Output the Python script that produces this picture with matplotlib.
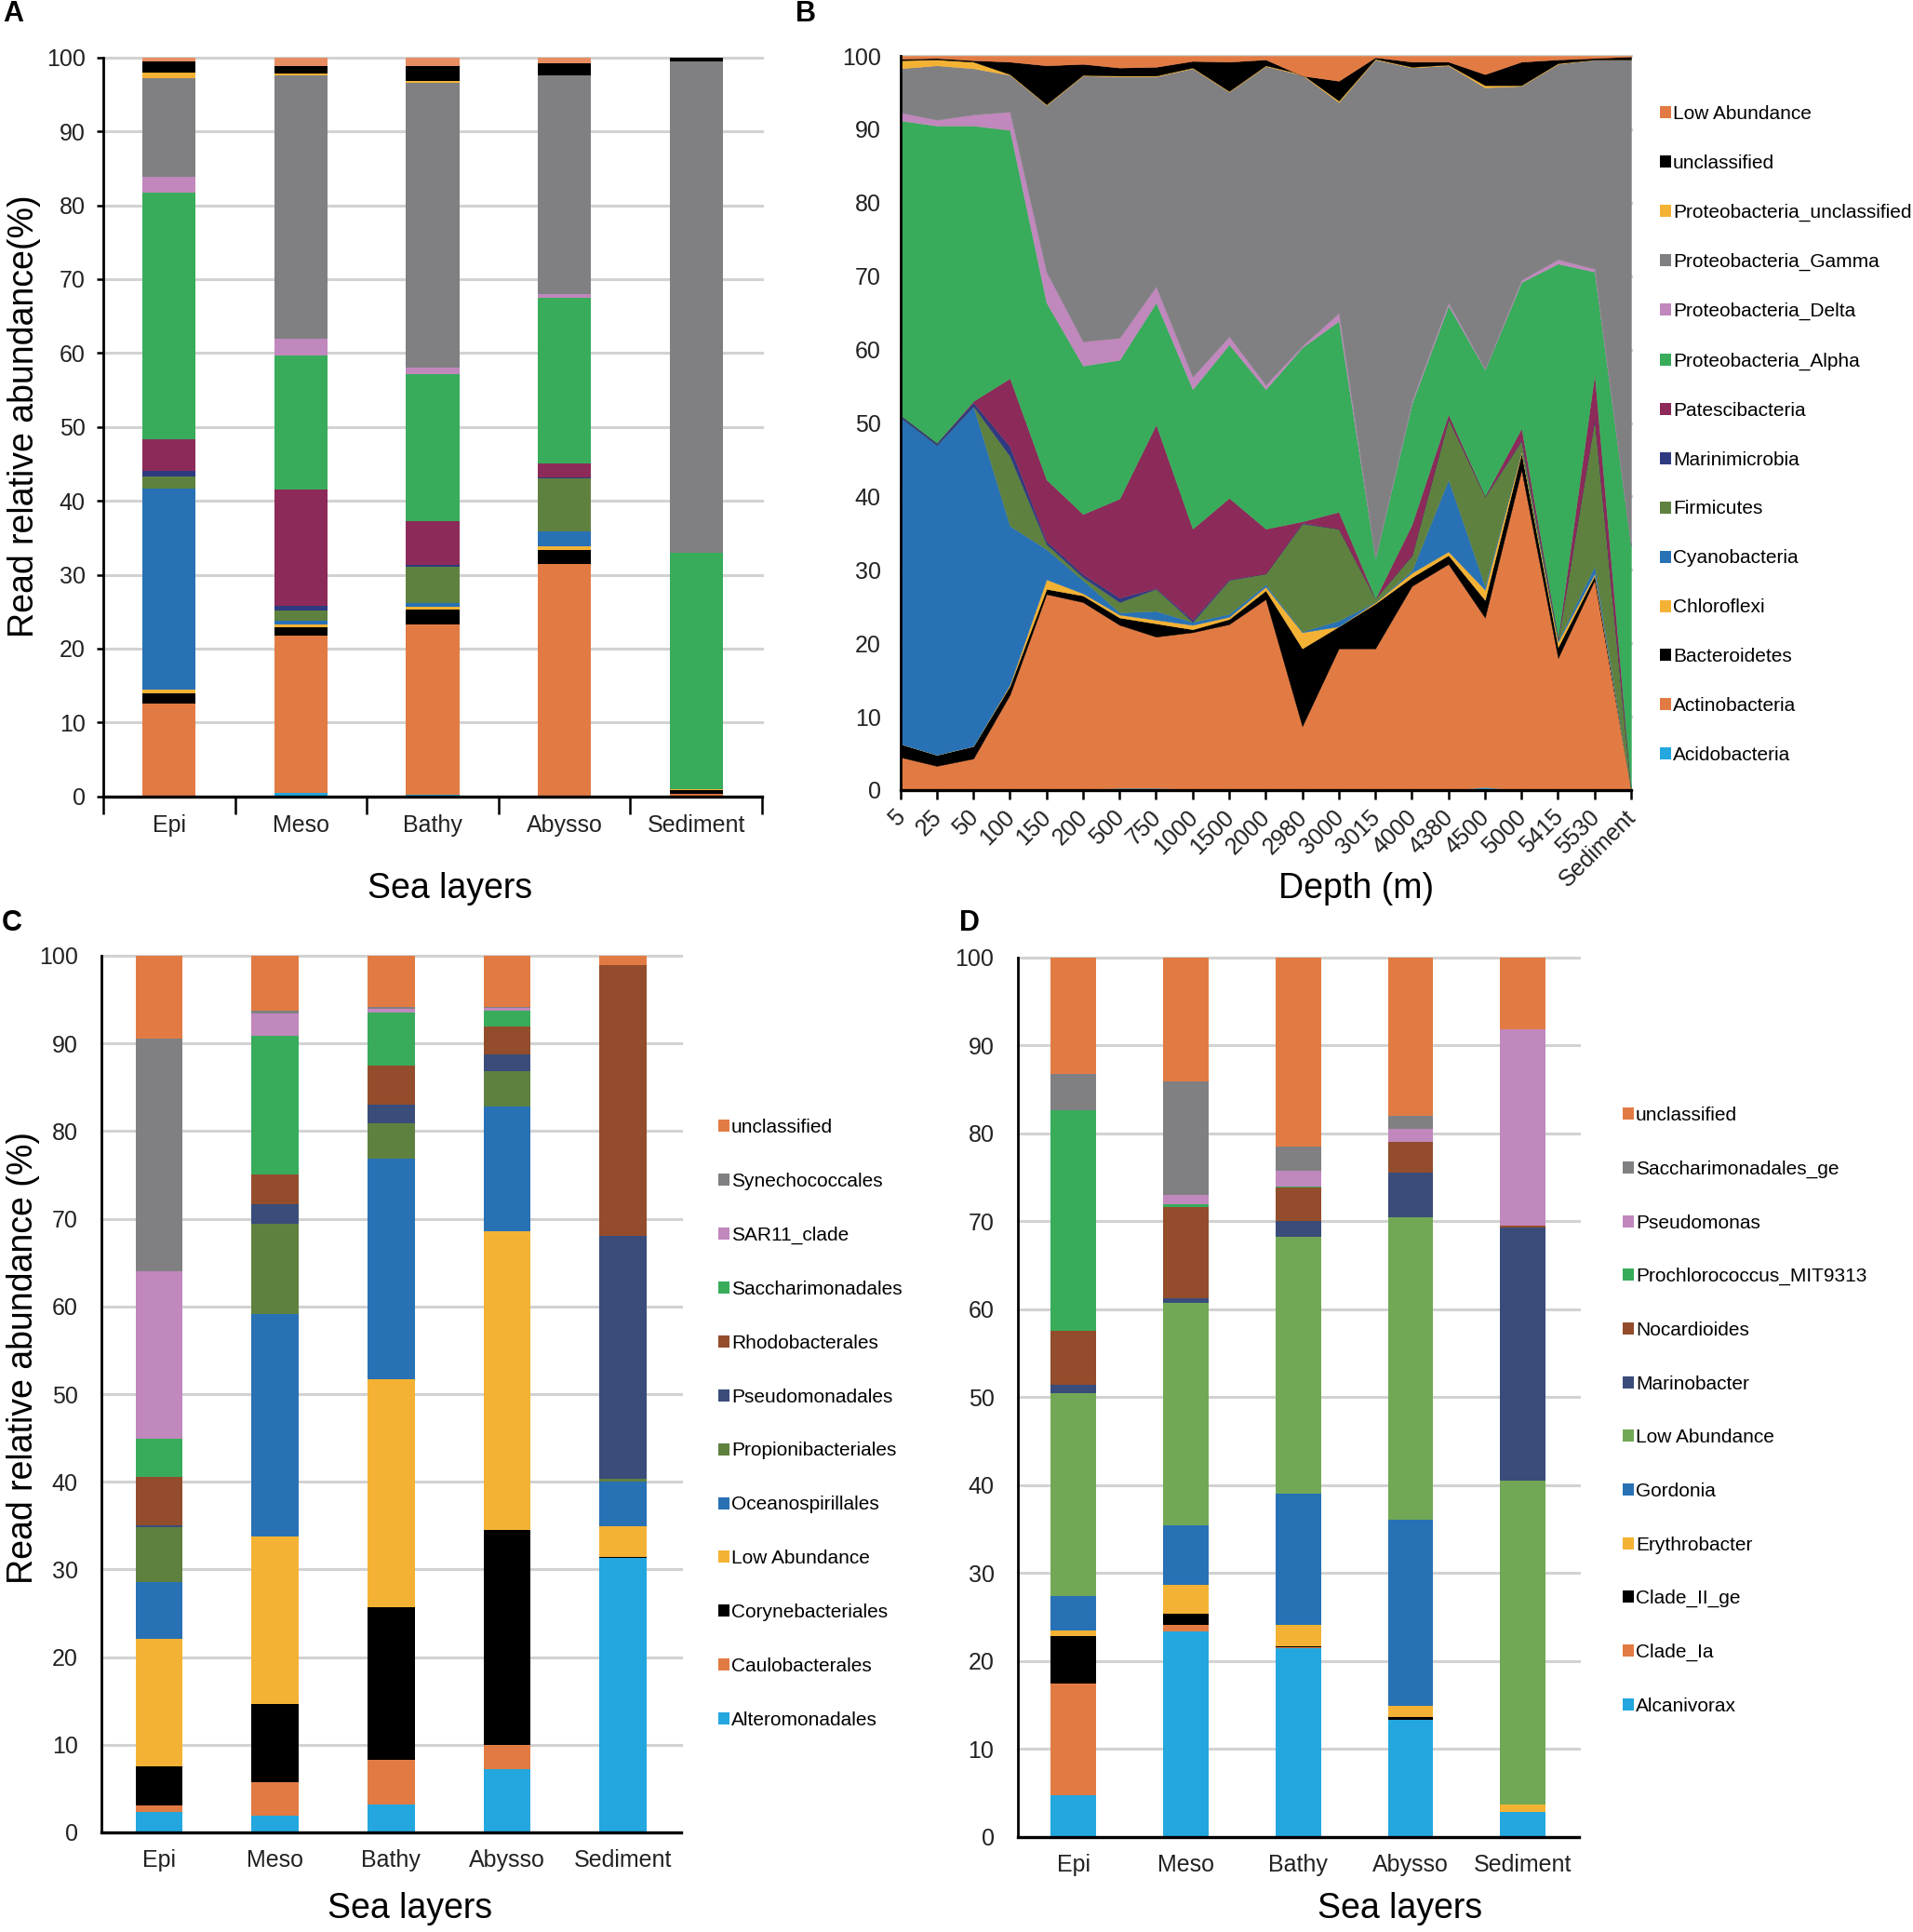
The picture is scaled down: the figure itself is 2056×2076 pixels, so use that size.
import numpy as np
import matplotlib
matplotlib.use('Agg')
import matplotlib.pyplot as plt
from matplotlib.patches import Patch
from matplotlib.transforms import ScaledTranslation

plt.rcParams['font.family'] = ['Liberation Sans', 'DejaVu Sans']

W, H = 2056, 2076

layers = ['Epi', 'Meso', 'Bathy', 'Abysso', 'Sediment']

# all numbers are upper edges of each stacked segment (%)
# panel A, phylum level, stack order bottom to top
a_labels = ['Acidobacteria', 'Actinobacteria', 'Bacteroidetes', 'Chloroflexi', 'Cyanobacteria', 'Firmicutes',
            'Marinimicrobia', 'Patescibacteria', 'Proteobacteria_Alpha', 'Proteobacteria_Delta',
            'Proteobacteria_Gamma', 'Proteobacteria_unclassified', 'unclassified', 'Low Abundance']
a_epi = [0, 12.6, 14.0, 14.4, 41.6, 43.3, 44.0, 48.3, 81.7, 83.9, 97.2, 97.9, 99.5, 100]
a_meso = [0.45, 21.8, 22.9, 23.2, 23.8, 25.2, 25.8, 41.5, 59.6, 61.9, 97.6, 97.8, 98.8, 100]
a_bathy = [0.2, 23.2, 25.3, 25.6, 26.1, 31.1, 31.3, 37.3, 57.2, 58.0, 96.6, 96.8, 98.8, 100]
a_abysso = [0, 31.4, 33.4, 33.9, 35.9, 43.0, 43.1, 45.0, 67.5, 68.0, 97.6, 97.6, 99.2, 100]
a_sediment = [0, 0.4, 0.8, 1.0, 1.0, 1.0, 1.0, 1.0, 33.0, 33.0, 99.5, 99.5, 99.95, 100]

# panel B, phylum level by depth
depths = ['5', '25', '50', '100', '150', '200', '500', '750', '1000', '1500', '2000', '2980', '3000', '3015',
          '4000', '4380', '4500', '5000', '5415', '5530', 'Sediment']
b_acido = [0, 0, 0, 0, 0.1, 0.1, 0.3, 0.3, 0.1, 0.2, 0.1, 0, 0, 0, 0, 0, 0.4, 0, 0, 0, 0]
b_actino = [4.5, 3.3, 4.3, 13.0, 26.7, 25.6, 22.5, 20.9, 21.5, 22.6, 26.0, 8.7, 19.3, 19.3, 27.8, 30.8, 23.5, 43.6, 18.0, 28.6, 0]
b_bactero = [6.3, 4.8, 6.0, 14.2, 27.4, 26.5, 23.5, 22.7, 21.9, 23.3, 27.2, 19.3, 22.3, 25.4, 29.0, 32.0, 25.9, 45.9, 19.5, 29.2, 0]
b_chloro = [6.3, 4.8, 6.0, 14.4, 28.7, 26.8, 23.9, 23.2, 22.5, 23.6, 27.7, 21.5, 22.3, 25.6, 29.6, 32.5, 27.3, 46.3, 20.2, 29.5, 0]
b_cyano = [50.8, 47.0, 52.3, 36.0, 32.8, 28.6, 24.2, 24.4, 22.9, 24.0, 28.0, 21.6, 23.1, 25.6, 29.9, 42.3, 27.8, 46.3, 20.4, 30.5, 0]
b_firmi = [50.8, 47.0, 52.3, 45.5, 33.5, 29.0, 25.6, 27.4, 22.9, 28.6, 29.5, 36.3, 35.6, 26.1, 32.0, 50.6, 40.0, 47.6, 20.6, 50.6, 0]
b_marini = [51.1, 47.3, 52.8, 46.8, 33.9, 29.4, 26.2, 27.5, 23.2, 28.7, 29.5, 36.4, 35.6, 26.1, 32.0, 50.6, 40.0, 47.7, 20.6, 50.6, 0]
b_patesci = [51.1, 47.3, 53.0, 56.1, 42.3, 37.6, 39.7, 49.8, 35.6, 39.8, 35.6, 36.6, 37.9, 26.1, 36.2, 51.2, 40.1, 49.3, 20.8, 56.7, 0]
b_alpha = [91.2, 90.5, 90.5, 89.9, 66.4, 57.8, 58.6, 66.4, 54.6, 60.7, 54.6, 60.3, 63.9, 31.6, 52.7, 66.0, 57.3, 69.2, 71.7, 70.6, 33.2]
b_delta = [92.3, 91.3, 92.0, 92.4, 70.6, 61.1, 61.6, 68.6, 56.3, 61.8, 55.2, 60.5, 65.0, 31.7, 53.0, 66.4, 57.4, 69.5, 72.3, 71.0, 33.2]
b_gamma = [98.3, 98.7, 98.3, 97.4, 93.3, 97.3, 97.2, 97.2, 98.3, 95.1, 98.6, 97.4, 93.7, 99.5, 98.4, 98.7, 95.7, 95.9, 98.9, 99.5, 99.5]
b_prot_uncl = [99.4, 99.5, 99.2, 97.5, 93.4, 97.4, 97.3, 97.3, 98.4, 95.2, 98.7, 97.5, 93.9, 99.6, 98.5, 98.8, 96.0, 96.0, 99.0, 99.5, 99.5]
b_uncl = [99.6, 99.7, 99.4, 99.2, 98.7, 98.9, 98.4, 98.5, 99.3, 99.2, 99.5, 97.3, 96.6, 99.8, 99.2, 99.2, 97.5, 99.2, 99.5, 99.7, 99.9]
b_low = [100] * 21

# panel C, order level
c_labels = ['Alteromonadales', 'Caulobacterales', 'Corynebacteriales', 'Low Abundance', 'Oceanospirillales',
            'Propionibacteriales', 'Pseudomonadales', 'Rhodobacterales', 'Saccharimonadales', 'SAR11_clade',
            'Synechococcales', 'unclassified']
c_epi = [2.3, 3.1, 7.5, 22.1, 28.6, 34.8, 35.0, 40.6, 44.9, 64.0, 90.6, 100]
c_meso = [1.9, 5.7, 14.6, 33.8, 59.1, 69.4, 71.7, 75.1, 90.9, 93.4, 93.7, 100]
c_bathy = [3.2, 8.3, 25.7, 51.7, 76.9, 80.9, 83.0, 87.5, 93.5, 94.0, 94.2, 100]
c_abysso = [7.2, 10.0, 34.5, 68.6, 82.8, 86.8, 88.7, 91.9, 93.7, 94.1, 94.2, 100]
c_sediment = [31.3, 31.3, 31.4, 34.9, 40.0, 40.3, 68.0, 98.9, 98.9, 98.9, 98.9, 100]

# panel D, genus level
d_labels = ['Alcanivorax', 'Clade_Ia', 'Clade_II_ge', 'Erythrobacter', 'Gordonia', 'Low Abundance', 'Marinobacter',
            'Nocardioides', 'Prochlorococcus_MIT9313', 'Pseudomonas', 'Saccharimonadales_ge', 'unclassified']
d_epi = [4.7, 17.4, 22.8, 23.5, 27.4, 50.5, 51.4, 57.5, 82.6, 82.6, 86.8, 100]
d_meso = [23.3, 24.1, 25.4, 28.6, 35.4, 60.7, 61.3, 71.6, 71.9, 73.0, 85.9, 100]
d_bathy = [21.4, 21.5, 21.7, 24.1, 39.0, 68.2, 70.0, 73.8, 74.0, 75.8, 78.5, 100]
d_abysso = [13.3, 13.3, 13.6, 14.9, 36.1, 70.5, 75.5, 79.0, 79.0, 80.5, 82.0, 100]
d_sediment = [2.8, 2.8, 2.8, 3.6, 3.6, 40.5, 69.3, 69.5, 69.5, 91.8, 91.8, 100]

SKY = '#23A7DE'
ORANGE = '#E27B43'
BLACK = '#000000'
YELLOW = '#F4B234'
BLUE = '#2871B5'
OLIVE = '#5F8140'
NAVY = '#2E3A80'
SLATE = '#3A4C7A'
PLUM = '#8C2A59'
GREEN = '#38AC5B'
PINK = '#C088BC'
GREY = '#808083'
BROWN = '#934D2C'
LEAF = '#72A855'
PEACH = '#E88D62'

a_colors = [SKY, ORANGE, BLACK, YELLOW, BLUE, OLIVE, NAVY, PLUM, GREEN, PINK, GREY, YELLOW, BLACK, PEACH]
b_colors = a_colors[:-1] + [ORANGE]
c_colors = [SKY, ORANGE, BLACK, YELLOW, BLUE, OLIVE, SLATE, BROWN, GREEN, PINK, GREY, ORANGE]
d_colors = [SKY, ORANGE, BLACK, YELLOW, BLUE, LEAF, SLATE, BROWN, GREEN, PINK, GREY, ORANGE]

GRID = '#D2D2D2'
TICK_COLOR = '#222222'

fig = plt.figure(figsize=(W / 100, H / 100), dpi=100, facecolor='white')


def px_axes(left, right, top, bottom):
    return fig.add_axes([left / W, 1 - bottom / H, (right - left) / W, (bottom - top) / H])


def fig_text(x, y, s, **kw):
    kw.setdefault('ha', 'center')
    kw.setdefault('va', 'center')
    fig.text(x / W, 1 - y / H, s, **kw)


def style_axis(ax, ytick_len=0, ypad=16):
    ax.set_ylim(0, 100)
    ax.set_yticks(range(0, 101, 10))
    ax.grid(axis='y', color=GRID, linewidth=2.2, clip_on=False)
    ax.set_axisbelow(True)
    for side in ['top', 'right']:
        ax.spines[side].set_visible(False)
    ax.spines['left'].set_linewidth(2.0)
    ax.spines['bottom'].set_linewidth(2.4)
    ax.tick_params(axis='y', labelsize=18, length=ytick_len, width=1.8, pad=ypad, labelcolor=TICK_COLOR)


def stacked_bars(ax, columns, colors):
    tops = np.array(columns, dtype=float)
    bottoms = np.hstack([np.zeros((tops.shape[0], 1)), tops[:, :-1]])
    x = np.arange(tops.shape[0])
    for i, color in enumerate(colors):
        ax.bar(x, tops[:, i] - bottoms[:, i], bottom=bottoms[:, i], width=0.405, color=color, linewidth=0)
    ax.set_xlim(-0.5, tops.shape[0] - 0.5)
    ax.set_xticks(x)
    ax.set_xticklabels(layers)


def side_legend(x, y, labels, colors, spacing):
    handles = [Patch(facecolor=c, edgecolor='none') for c in colors[::-1]]
    fig.legend(handles, labels[::-1], loc='upper left', bbox_to_anchor=(x / W, 1 - y / H), bbox_transform=fig.transFigure,
               frameon=False, fontsize=15, handlelength=0.58, handleheight=0.58, handletextpad=0.08,
               labelspacing=spacing, borderpad=0, borderaxespad=0)


# A
ax_a = px_axes(111, 819, 61.7, 855.7)
style_axis(ax_a, ytick_len=5, ypad=9)
stacked_bars(ax_a, [a_epi, a_meso, a_bathy, a_abysso, a_sediment], a_colors)
# ticks sit between the categories here
ax_a.set_xticks(np.arange(-0.5, 5), minor=True)
ax_a.tick_params(axis='x', which='minor', length=14, width=1.8)
ax_a.tick_params(axis='x', which='major', length=0, labelsize=18, pad=14, labelcolor=TICK_COLOR)

# B
ax_b = px_axes(967.5, 1753, 60, 849)
style_axis(ax_b, ypad=15)
x_b = np.arange(len(depths))
b_series = [b_acido, b_actino, b_bactero, b_chloro, b_cyano, b_firmi, b_marini, b_patesci, b_alpha, b_delta,
            b_gamma, b_prot_uncl, b_uncl, b_low]
lower = np.zeros(len(depths))
for series, color in zip(b_series, b_colors):
    ax_b.fill_between(x_b, lower, series, color=color, linewidth=0.3, zorder=2)
    lower = np.array(series, dtype=float)
ax_b.set_xlim(0, len(depths) - 1)
ax_b.set_xticks(x_b)
ax_b.set_xticklabels(depths, rotation=45, ha='right', rotation_mode='anchor')
ax_b.tick_params(axis='x', labelsize=18, length=7, width=1.8, pad=5, labelcolor=TICK_COLOR)
# labels sit a bit further left than the default anchor
nudge = ScaledTranslation(-7 / 100, 0, fig.dpi_scale_trans)
for lab in ax_b.get_xticklabels():
    lab.set_transform(lab.get_transform() + nudge)
for side in ['left', 'bottom']:
    ax_b.spines[side].set_zorder(5)

# C
ax_c = px_axes(108.6, 732, 1027, 1969)
style_axis(ax_c, ypad=18)
stacked_bars(ax_c, [c_epi, c_meso, c_bathy, c_abysso, c_sediment], c_colors)
ax_c.tick_params(axis='x', length=0, labelsize=18, pad=13, labelcolor=TICK_COLOR)

# D
ax_d = px_axes(1093.5, 1697, 1029, 1973.5)
style_axis(ax_d, ypad=18)
stacked_bars(ax_d, [d_epi, d_meso, d_bathy, d_abysso, d_sediment], d_colors)
ax_d.tick_params(axis='x', length=0, labelsize=18, pad=13, labelcolor=TICK_COLOR)

# legends
side_legend(1784, 113, a_labels, b_colors, 1.629)
side_legend(772, 1202, c_labels, c_colors, 1.866)
side_legend(1744, 1189, d_labels, d_colors, 1.854)

# axis titles
fig_text(484, 955.5, 'Sea layers', fontsize=27)
fig_text(1458, 955.5, 'Depth (m)', fontsize=27)
fig_text(441, 2051, 'Sea layers', fontsize=27)
fig_text(1505, 2051, 'Sea layers', fontsize=27)
fig_text(26, 447, 'Read relative abundance(%)', fontsize=27, rotation=90)
fig_text(25, 1459, 'Read relative abundance (%)', fontsize=27, rotation=90)

# panel letters
fig_text(14, 15, 'A', fontsize=22, fontweight='bold')
fig_text(866, 15, 'B', fontsize=22, fontweight='bold')
fig_text(13, 992, 'C', fontsize=22, fontweight='bold')
fig_text(1042, 992, 'D', fontsize=22, fontweight='bold')

fig.savefig('out.png', dpi=100, facecolor='white')
